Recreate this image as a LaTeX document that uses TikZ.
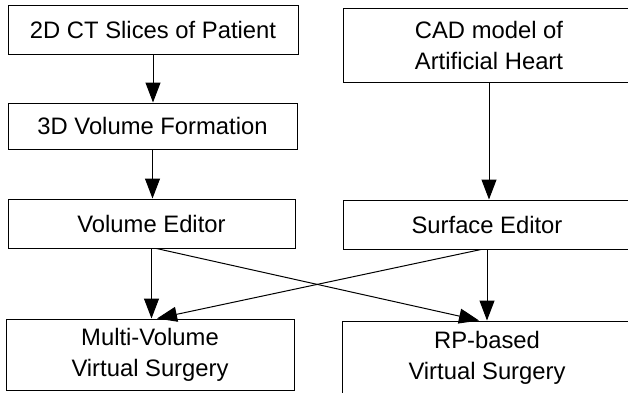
\documentclass[tikz,border=0pt]{standalone}
\usepackage{fontspec}
\setmainfont{Liberation Sans}
\usetikzlibrary{arrows.meta}
\begin{document}
\begin{tikzpicture}[x=1pt,y=-1pt,
  box/.style={draw=black, line width=1pt, rectangle, inner sep=0pt, align=center,
    font=\fontsize{23.8pt}{31pt}\selectfont},
  conn/.style={draw=black, line width=1pt, arrows={-Triangle[length=20pt,width=15pt]}}]
\useasboundingbox (0,0) rectangle (628,392);
\fill[white] (0,0) rectangle (628,392);
\node[box, minimum width=290pt, minimum height=49pt] (ct) at (153,29.5) {2D CT Slices of Patient};
\node[box, minimum width=289pt, minimum height=46pt] (vf) at (152.5,126) {3D Volume Formation};
\node[box, minimum width=287pt, minimum height=49pt] (ve) at (151.5,223.5) {Volume Editor};
\node[box, minimum width=288pt, minimum height=71pt] (mv) at (150,354.5) {Multi-Volume\\Virtual Surgery};
\node[box, minimum width=292pt, minimum height=74pt] (cad) at (489,45) {CAD model of\\Artificial Heart};
\node[box, minimum width=288pt, minimum height=49pt] (se) at (487,224.5) {Surface Editor};
\node[box, minimum width=290pt, minimum height=73pt] (rp) at (487,357.5) {RP-based\\Virtual Surgery};
\draw[conn] (ct.south) -- (ct.south |- vf.north);
\draw[conn] (vf.south) -- (vf.south |- ve.north);
\draw[conn] (ve.south) -- (ve.south |- mv.north);
\draw[conn] (cad.south) -- (cad.south |- se.north);
\draw[conn] (se.south) -- (se.south |- rp.north);
\draw[conn] ([xshift=5pt]ve.south) -- ([xshift=-8pt]rp.north);
\draw[conn] ([xshift=-6pt]se.south) -- ([xshift=7pt]mv.north);
\end{tikzpicture}
\end{document}
